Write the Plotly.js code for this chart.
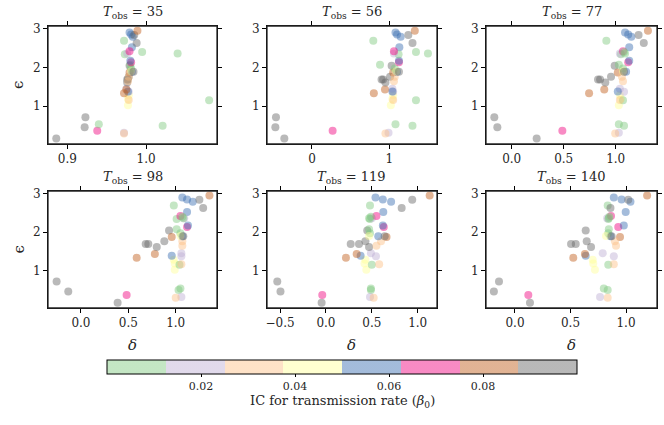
<!DOCTYPE html>
<html>
<head>
<meta charset="utf-8">
<script src="https://cdn.plot.ly/plotly-3.0.1.min.js"></script>
<style>
  html, body { margin: 0; padding: 0; background: #fff; }
  #chart { width: 664px; height: 425px; }
</style>
</head>
<body>
<div id="chart"></div>
<script>
// initial condition for beta_0 of each run (decides the colour)
const beta = [
  0.095, 0.092, 0.097, 0.068, 0.004, 0.008, 0.019, 0.031,
  0.044, 0.041, 0.046, 0.006, 0.029, 0.016, 0.022, 0.056,
  0.081, 0.079, 0.091, 0.094, 0.089, 0.093, 0.096, 0.084,
  0.033, 0.027, 0.058, 0.003, 0.010, 0.039, 0.098, 0.070,
  0.053, 0.060, 0.007, 0.021, 0.066, 0.002, 0.009, 0.090,
  0.051, 0.055, 0.061, 0.099, 0.086, 0.011
];
const eps = [
  0.71, 0.45, 0.16, 0.36, 0.53, 0.49, 0.31, 0.29,
  1.02, 1.28, 1.18, 1.15, 1.16, 1.45, 1.37, 1.38,
  1.33, 1.43, 1.69, 1.69, 1.61, 1.76, 2.04, 1.87,
  1.76, 1.64, 1.89, 1.97, 2.07, 1.90, 1.89, 2.13,
  2.17, 2.52, 2.34, 2.36, 2.42, 2.40, 2.69, 2.63,
  2.90, 2.85, 2.79, 2.84, 2.95, 2.36
];
const delta35 = [
  0.923, 0.922, 0.886, 0.938, 0.940, 1.021, 0.972, 0.972,
  0.977, 0.978, 0.977, 1.080, 0.978, 0.975, 0.978, 0.977,
  0.972, 0.975, 0.976, 0.977, 0.976, 0.978, 0.979, 0.979,
  0.978, 0.977, 0.982, 0.981, 0.980, 0.981, 0.984, 0.981,
  0.980, 0.982, 0.973, 0.976, 0.979, 0.995, 0.972, 0.988,
  0.979, 0.981, 0.983, 0.985, 0.989, 1.040
];
const delta56 = [
  -0.466, -0.474, -0.358, 0.267, 1.08, 1.30, 0.99, 0.95,
  1.02, 1.05, 1.04, 1.345, 1.05, 1.04, 1.05, 1.04,
  0.80, 0.944, 0.90, 0.92, 0.95, 1.01, 1.03, 1.05,
  1.07, 1.06, 1.10, 1.07, 0.88, 1.09, 1.125, 1.125,
  1.125, 1.13, 1.12, 1.06, 1.06, 1.345, 0.793, 1.30,
  1.08, 1.10, 1.147, 1.246, 1.33, 1.50
];
const delta77 = [
  -0.167, -0.138, 0.24, 0.487, 1.03, 1.08, 1.03, 0.995,
  1.03, 1.04, 1.05, 1.07, 1.04, 1.04, 1.08, 1.02,
  0.744, 0.89, 0.83, 0.85, 0.90, 0.955, 0.99, 1.02,
  1.06, 1.07, 1.10, 1.07, 1.03, 1.07, 1.08, 1.12,
  1.13, 1.13, 1.05, 1.04, 1.07, 1.08, 0.91, 1.27,
  1.09, 1.12, 1.15, 1.22, 1.31, 1.09
];
const delta98 = [
  -0.257, -0.134, 0.387, 0.482, 1.05, 1.03, 1.06, 1.0,
  0.99, 0.98, 0.99, 1.04, 1.06, 1.06, 1.06, 0.958,
  0.588, 0.78, 0.683, 0.711, 0.80, 0.88, 0.93, 0.958,
  1.07, 1.07, 1.07, 1.05, 1.01, 1.05, 1.08, 1.12,
  1.13, 1.12, 1.01, 1.09, 1.05, 1.07, 0.98, 1.29,
  1.07, 1.12, 1.18, 1.25, 1.356, 1.08
];
const delta119 = [
  -0.53, -0.495, -0.047, -0.04, 0.49, 0.49, 0.48, 0.52,
  0.44, 0.43, 0.42, 0.50, 0.58, 0.49, 0.545, 0.378,
  0.218, 0.335, 0.27, 0.36, 0.47, 0.43, 0.45, 0.66,
  0.60, 0.55, 0.57, 0.48, 0.47, 0.47, 0.64, 0.63,
  0.62, 0.625, 0.48, 0.50, 0.55, 0.49, 0.48, 0.825,
  0.54, 0.62, 0.71, 0.94, 1.13, 0.47
];
const delta140 = [
  -0.144, -0.19, 0.135, 0.12, 0.80, 0.835, 0.766, 0.835,
  0.72, 0.70, 0.705, 0.84, 0.89, 0.79, 0.89, 0.637,
  0.525, 0.63, 0.505, 0.547, 0.685, 0.646, 0.637, 0.946,
  0.90, 0.91, 0.86, 0.84, 0.845, 0.82, 0.87, 0.93,
  0.98, 0.997, 0.84, 0.83, 0.865, 0.85, 0.835, 0.86,
  0.89, 0.96, 1.04, 1.02, 1.19, 0.845
];

const tObs = [35, 56, 77, 98, 119, 140];
const deltas = [delta35, delta56, delta77, delta98, delta119, delta140];
const xRanges = [[0.8755, 1.09], [-0.582, 1.617], [-0.247, 1.397],
                 [-0.348, 1.436], [-0.642, 1.21], [-0.261, 1.279]];
const xTicks = [[0.9, 1.0], [0, 1], [0, 0.5, 1], [0, 0.5, 1], [-0.5, 0, 0.5, 1], [0, 0.5, 1]];
const xTickText = [["0.9", "1.0"], ["0", "1"], ["0.0", "0.5", "1.0"], ["0.0", "0.5", "1.0"],
                   ["\u22120.5", "0.0", "0.5", "1.0"], ["0.0", "0.5", "1.0"]];
const yTicks = [1, 2, 3];
const cbTicks = [0.02, 0.04, 0.06, 0.08];

// Accent colormap with transparency
const accent = [[127, 201, 127], [190, 174, 212], [253, 192, 134], [255, 255, 153],
                [56, 108, 176], [240, 2, 127], [191, 91, 23], [102, 102, 102]];
const alpha = 0.46;
const colorscale = [];
accent.forEach((c, i) => {
    const col = `rgba(${c[0]},${c[1]},${c[2]},${alpha})`;
    colorscale.push([i / 8, col]);
    colorscale.push([(i + 1) / 8, col]);
});

const font = "DejaVu Serif";
const ink = "black";
const txt = "#262626";
const xDom = [[48 / 664, 217 / 664], [267 / 664, 437 / 664], [486 / 664, 657 / 664]];
const yDom = [[(425 - 144) / 425, (425 - 26) / 425], [(425 - 308) / 425, (425 - 191) / 425]];

const traces = [];
const layout = {
    width: 664,
    height: 425,
    margin: { l: 0, r: 0, t: 0, b: 0 },
    paper_bgcolor: "white",
    plot_bgcolor: "rgba(0,0,0,0)",
    font: { family: font, size: 12, color: txt },
    showlegend: false,
    annotations: [],
    shapes: [],
    coloraxis: {
        colorscale: colorscale,
        cmin: 0,
        cmax: 0.1,
        colorbar: {
            orientation: "h",
            x: 342 / 664,
            xanchor: "center",
            y: (425 - 360) / 425,
            yanchor: "top",
            len: 470 / 664,
            lenmode: "fraction",
            thickness: 14,
            thicknessmode: "pixels",
            xpad: 0,
            ypad: 0,
            outlinewidth: 1,
            outlinecolor: ink,
            tickmode: "array",
            tickvals: cbTicks,
            ticktext: cbTicks.map(v => v.toFixed(2)),
            ticks: "outside",
            ticklen: 3,
            tickwidth: 1,
            tickcolor: ink,
            tickfont: { family: font, size: 11, color: txt }
        }
    }
};

tObs.forEach((t, i) => {
    const n = i + 1;
    const sfx = n === 1 ? "" : String(n);
    const row = Math.floor(i / 3);
    const col = i % 3;
    traces.push({
        x: deltas[i],
        y: eps,
        type: "scatter",
        mode: "markers",
        xaxis: "x" + sfx,
        yaxis: "y" + sfx,
        marker: { size: 8, color: beta, coloraxis: "coloraxis", line: { width: 0 } },
        hoverinfo: "skip"
    });
    layout["xaxis" + sfx] = {
        domain: xDom[col],
        anchor: "y" + sfx,
        range: xRanges[i],
        tickmode: "array",
        tickvals: xTicks[i],
        ticktext: xTickText[i],
        showgrid: false,
        zeroline: false,
        showline: true,
        mirror: "all",
        linecolor: ink,
        linewidth: 1,
        ticks: "outside",
        ticklen: 4,
        tickwidth: 1,
        tickcolor: ink,
        tickfont: { family: font, size: 12, color: txt }
    };
    layout["yaxis" + sfx] = {
        domain: yDom[row],
        anchor: "x" + sfx,
        range: [0.02, 3.07],
        tickmode: "array",
        tickvals: yTicks,
        showgrid: false,
        zeroline: false,
        showline: true,
        mirror: "all",
        linecolor: ink,
        linewidth: 1,
        ticks: "outside",
        ticklen: 4,
        tickwidth: 1,
        tickcolor: ink,
        tickfont: { family: font, size: 12, color: txt }
    };
    // frame of the panel
    layout.shapes.push({
        type: "rect", xref: "x" + sfx + " domain", yref: "y" + sfx + " domain",
        x0: 0, x1: 1, y0: 0, y1: 1,
        line: { color: "#262626", width: 1.3 }, fillcolor: "rgba(0,0,0,0)"
    });
    layout.annotations.push({
        text: `<i>T</i><sub>obs</sub> = ${t}`,
        xref: "paper", yref: "paper",
        x: (xDom[col][0] + xDom[col][1]) / 2,
        y: yDom[row][1] + 3 / 425,
        xanchor: "center", yanchor: "bottom",
        showarrow: false,
        font: { family: font, size: 13, color: txt }
    });
});

// axis labels
[0, 1].forEach(row => {
    layout.annotations.push({
        text: "\u03f5",
        xref: "paper", yref: "paper",
        x: 18 / 664,
        y: (yDom[row][0] + yDom[row][1]) / 2,
        xanchor: "center", yanchor: "middle",
        textangle: -90,
        showarrow: false,
        font: { family: font, size: 15, color: txt }
    });
});
xDom.forEach(d => {
    layout.annotations.push({
        text: "<i>\u03b4</i>",
        xref: "paper", yref: "paper",
        x: (d[0] + d[1]) / 2,
        y: (425 - 345) / 425,
        xanchor: "center", yanchor: "middle",
        showarrow: false,
        font: { family: font, size: 15, color: txt }
    });
});
// colorbar label
layout.annotations.push({
    text: "IC for transmission rate (<i>\u03b2</i><sub>0</sub>)",
    xref: "paper", yref: "paper",
    x: 342 / 664,
    y: (425 - 401) / 425,
    xanchor: "center", yanchor: "middle",
    showarrow: false,
    font: { family: font, size: 13, color: txt }
});

Plotly.newPlot("chart", traces, layout, { displayModeBar: false });
</script>
</body>
</html>
